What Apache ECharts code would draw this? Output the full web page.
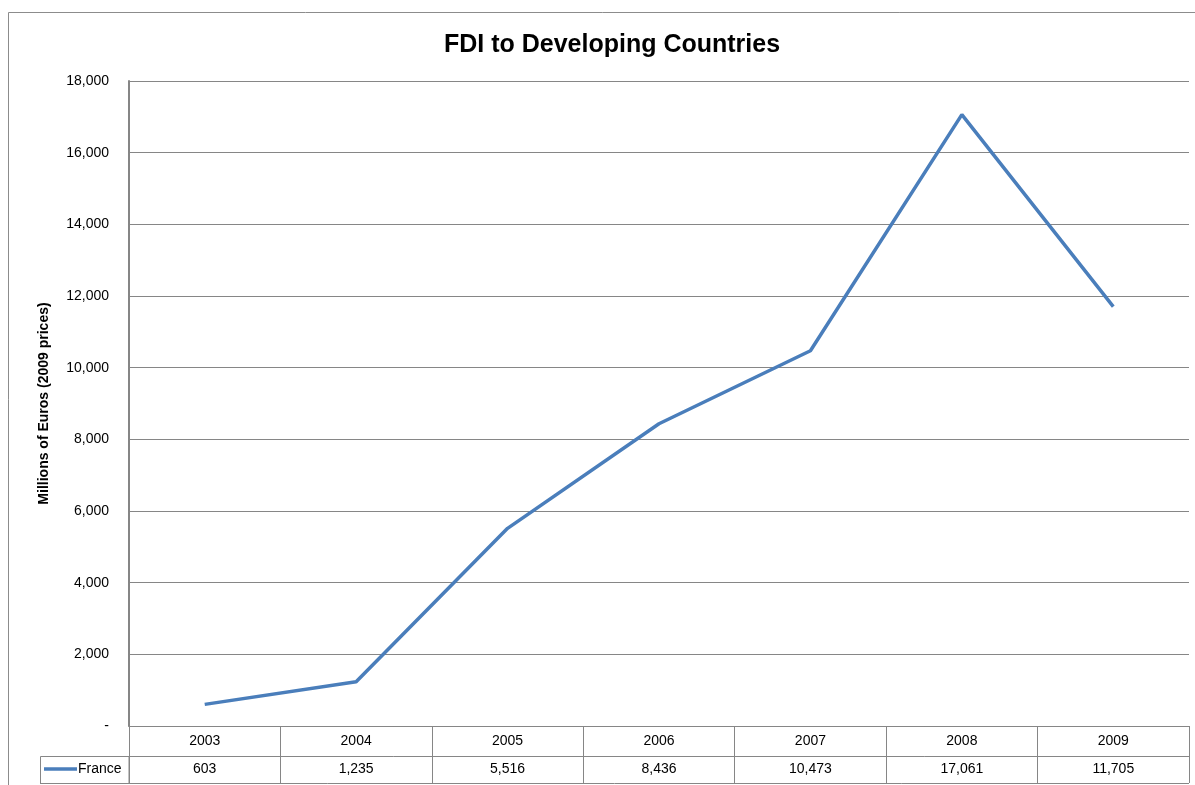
<!DOCTYPE html>
<html>
<head>
<meta charset="utf-8">
<script src="https://cdn.jsdelivr.net/npm/echarts@6/dist/echarts.min.js"></script>
<style>
  html, body { margin: 0; padding: 0; background: #fff; }
  #chart { width: 1195px; height: 785px; }
</style>
</head>
<body>
<div id="chart"></div>
<script>
// FDI flows from France to developing countries, millions of euros (2009 prices)
const years = ['2003', '2004', '2005', '2006', '2007', '2008', '2009'];
const france = [603, 1235, 5516, 8436, 10473, 17061, 11705];
const seriesName = 'France';

const FONT = '"Liberation Sans", "DejaVu Sans", sans-serif';
const GRID_COLOR = '#868686';
const LINE_COLOR = '#4a7ebb';

const fmt = v => v === 0 ? '-' : v.toLocaleString('en-US');

const chart = echarts.init(document.getElementById('chart'), null, { renderer: 'canvas' });

chart.setOption({
  animation: false,
  backgroundColor: '#ffffff',
  title: {
    text: 'FDI to Developing Countries',
    left: 607,
    top: 28,
    textAlign: 'center',
    textStyle: { fontFamily: FONT, fontSize: 25, fontWeight: 'bold', color: '#000' }
  },
  grid: { left: 129, right: 6, top: 81, bottom: 59, containLabel: false },
  xAxis: [
    {
      // header row of the data table: years
      type: 'category',
      data: years,
      position: 'bottom',
      boundaryGap: true,
      axisLine: { show: true, lineStyle: { color: GRID_COLOR, width: 1 } },
      axisTick: { show: true, interval: 0, length: 30, lineStyle: { color: GRID_COLOR } },
      axisLabel: { interval: 0, margin: 8, fontFamily: FONT, fontSize: 14, color: '#000' },
      splitLine: { show: false }
    },
    {
      // values row of the data table
      type: 'category',
      data: years,
      position: 'bottom',
      offset: 30,
      boundaryGap: true,
      axisLine: { show: true, lineStyle: { color: GRID_COLOR, width: 1 } },
      axisTick: { show: true, interval: 0, length: 27, lineStyle: { color: GRID_COLOR } },
      axisLabel: {
        interval: 0, margin: 6, fontFamily: FONT, fontSize: 14, color: '#000',
        formatter: (v, i) => fmt(france[i])
      },
      splitLine: { show: false }
    }
  ],
  yAxis: {
    type: 'value',
    min: 0,
    max: 18000,
    interval: 2000,
    name: 'Millions of Euros (2009 prices)',
    nameLocation: 'middle',
    nameGap: 78,
    nameRotate: 90,
    nameTextStyle: { fontFamily: FONT, fontSize: 14, fontWeight: 'bold', color: '#000' },
    axisLine: { show: true, lineStyle: { color: GRID_COLOR, width: 2 } },
    axisTick: { show: false },
    axisLabel: { margin: 20, fontFamily: FONT, fontSize: 14, color: '#000', formatter: fmt },
    splitLine: { show: true, lineStyle: { color: GRID_COLOR, width: 1 } }
  },
  series: [
    {
      name: seriesName,
      type: 'line',
      xAxisIndex: 0,
      data: france,
      symbol: 'none',
      lineStyle: { color: LINE_COLOR, width: 3.5 },
      z: 5
    }
  ],
  graphic: [
    // chart frame
    {
      type: 'rect',
      shape: { x: 8.5, y: 12.5, width: 1200, height: 800 },
      style: { fill: 'none', stroke: '#8c8c8c', lineWidth: 1 },
      silent: true
    },
    // legend-key cell of the data table
    {
      type: 'rect',
      shape: { x: 40.5, y: 756.5, width: 88.5, height: 27 },
      style: { fill: 'none', stroke: GRID_COLOR, lineWidth: 1 },
      silent: true
    },
    // bottom border of the data table
    {
      type: 'line',
      shape: { x1: 40, y1: 783.5, x2: 1189, y2: 783.5 },
      style: { stroke: GRID_COLOR, lineWidth: 1 },
      silent: true
    },
    // legend key line
    {
      type: 'line',
      shape: { x1: 44, y1: 769, x2: 77, y2: 769 },
      style: { stroke: LINE_COLOR, lineWidth: 3.5 },
      silent: true
    },
    {
      type: 'text',
      x: 78,
      y: 769,
      style: {
        text: seriesName,
        fontFamily: FONT, fontSize: 14, fill: '#000',
        textVerticalAlign: 'middle', verticalAlign: 'middle'
      },
      silent: true
    }
  ]
});
</script>
</body>
</html>
